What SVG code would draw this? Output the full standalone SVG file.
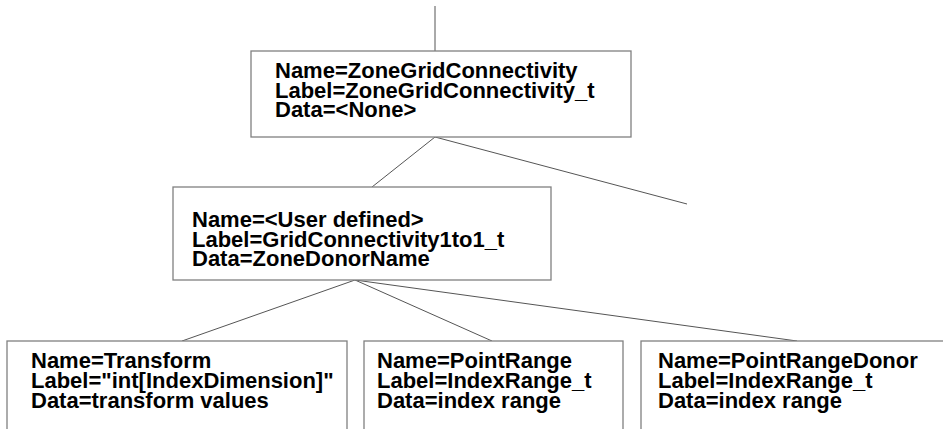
<svg xmlns="http://www.w3.org/2000/svg" width="943" height="429" viewBox="0 0 943 429">
<style>
.box{fill:#fff;stroke:#808080;stroke-width:1.3}
.conn line{stroke:#555;stroke-width:1}
text{font-family:"Liberation Sans",Arial,sans-serif;font-weight:bold;font-size:22px;fill:#000}
</style>
<rect width="943" height="429" fill="#fff"/>
<g id="connectors" class="conn">
<line x1="435" y1="6" x2="435" y2="51"/>
<line x1="435" y1="137" x2="372" y2="187"/>
<line x1="435" y1="137" x2="687" y2="204"/>
<line x1="355" y1="280" x2="182" y2="341"/>
<line x1="355" y1="280" x2="492" y2="341"/>
<line x1="355" y1="280" x2="797" y2="341"/>
</g>
<g id="zoneGridConnectivity">
<rect class="box" x="251" y="51" width="380" height="86"/>
<text x="275" y="78">Name=ZoneGridConnectivity</text>
<text x="275" y="97.5">Label=ZoneGridConnectivity_t</text>
<text x="275" y="116.5">Data=&lt;None&gt;</text>
</g>
<g id="gridConnectivity1to1">
<rect class="box" x="173" y="187" width="378" height="93"/>
<text x="192" y="227">Name=&lt;User defined&gt;</text>
<text x="192" y="246.5">Label=GridConnectivity1to1_t</text>
<text x="192" y="266">Data=ZoneDonorName</text>
</g>
<g id="transform">
<rect class="box" x="7" y="341" width="340" height="110"/>
<text x="31" y="368">Name=Transform</text>
<text x="31" y="388">Label="int[IndexDimension]"</text>
<text x="31" y="408">Data=transform values</text>
</g>
<g id="pointRange">
<rect class="box" x="364" y="341" width="259" height="110"/>
<text x="377" y="368">Name=PointRange</text>
<text x="377" y="388">Label=IndexRange_t</text>
<text x="377" y="408">Data=index range</text>
</g>
<g id="pointRangeDonor">
<rect class="box" x="641" y="341" width="310" height="110"/>
<text x="658" y="368">Name=PointRangeDonor</text>
<text x="658" y="388">Label=IndexRange_t</text>
<text x="658" y="408">Data=index range</text>
</g>
</svg>
